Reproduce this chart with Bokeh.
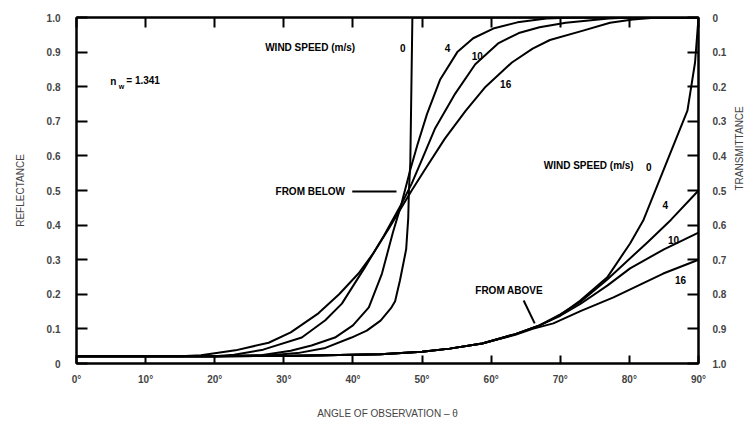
import math
from bokeh.plotting import figure
from bokeh.models import Range1d, LinearAxis, FixedTicker, CustomJSTickFormatter
from bokeh.core.properties import value
from bokeh.embed import file_html
from bokeh.resources import INLINE

# ---- data (angle of observation in degrees, reflectance) ----
below_0_ang = [0, 20, 28, 32, 36, 39.8, 42, 44, 45.5, 46.1, 46.8, 47.4, 47.7, 48.0, 48.1, 48.3, 48.6, 60, 75, 90]
below_0_ref = [0.021, 0.021, 0.024, 0.03, 0.045, 0.075, 0.095, 0.124, 0.16, 0.18, 0.24, 0.30, 0.33, 0.42, 0.50, 0.58, 1.0, 1.0, 1.0, 1.0]

below_4_ang = [0, 20, 26.7, 31, 34, 37.4, 40, 42.3, 44.2, 45.8, 47, 48.3, 49.3, 50.7, 52.6, 55.1, 57.4, 60.3, 63.8, 68, 72, 90]
below_4_ref = [0.021, 0.021, 0.024, 0.037, 0.052, 0.075, 0.11, 0.162, 0.26, 0.38, 0.46, 0.56, 0.63, 0.72, 0.82, 0.90, 0.94, 0.968, 0.986, 0.997, 1.0, 1.0]

below_10_ang = [0, 20, 22.8, 27, 32.6, 36, 38.4, 41.7, 44.5, 47, 48.5, 50, 51.9, 54.8, 57.7, 61, 64, 67, 70.8, 77, 80, 90]
below_10_ref = [0.021, 0.021, 0.025, 0.04, 0.075, 0.125, 0.173, 0.277, 0.37, 0.46, 0.52, 0.59, 0.68, 0.78, 0.865, 0.925, 0.955, 0.972, 0.985, 0.997, 1.0, 1.0]

below_16_ang = [0, 15, 18, 23, 27.8, 31, 35, 38, 40.8, 43, 45.2, 47, 48.5, 50.4, 53.3, 56.3, 59.2, 63, 66, 68.5, 73.3, 77.2, 80.5, 84, 90]
below_16_ref = [0.021, 0.021, 0.024, 0.038, 0.06, 0.09, 0.145, 0.2, 0.26, 0.32, 0.39, 0.45, 0.5, 0.56, 0.65, 0.73, 0.80, 0.87, 0.91, 0.935, 0.962, 0.985, 0.994, 1.0, 1.0]

above_0_ang = [0, 10, 20, 30, 40, 44, 50, 54, 58.7, 63.5, 67, 70, 72.9, 76.8, 80.1, 82, 85.5, 88.4, 89.5, 90]
above_0_ref = [0.021, 0.021, 0.021, 0.022, 0.025, 0.027, 0.034, 0.043, 0.058, 0.085, 0.11, 0.14, 0.182, 0.249, 0.347, 0.413, 0.587, 0.731, 0.87, 1.0]

above_4_ang = [0, 10, 20, 30, 40, 44, 50, 54, 58.7, 63.5, 67, 70, 72.9, 76.8, 82.6, 86, 90]
above_4_ref = [0.021, 0.021, 0.021, 0.022, 0.025, 0.027, 0.034, 0.043, 0.058, 0.085, 0.11, 0.142, 0.178, 0.243, 0.35, 0.415, 0.50]

above_10_ang = [0, 10, 20, 30, 40, 44, 50, 54, 58.7, 63.5, 67, 70, 72.9, 76.8, 80.1, 85, 90]
above_10_ref = [0.021, 0.021, 0.021, 0.022, 0.025, 0.027, 0.034, 0.043, 0.058, 0.085, 0.11, 0.138, 0.172, 0.225, 0.275, 0.33, 0.378]

above_16_ang = [0, 10, 20, 30, 40, 44, 50, 54, 58.7, 63.5, 66, 69, 73, 77.7, 84.9, 90]
above_16_ref = [0.021, 0.021, 0.021, 0.022, 0.025, 0.027, 0.034, 0.043, 0.058, 0.083, 0.10, 0.116, 0.152, 0.191, 0.26, 0.30]

x_ticks = [0, 10, 20, 30, 40, 50, 60, 70, 80, 90]
y_ticks = [0, 0.1, 0.2, 0.3, 0.4, 0.5, 0.6, 0.7, 0.8, 0.9, 1.0]

FONT = "Liberation Sans"

p = figure(width=753, height=425, output_backend="svg", toolbar_location=None,
           x_range=Range1d(0, 90), y_range=Range1d(0, 1),
           min_border_left=76, min_border_right=55, min_border_top=17, min_border_bottom=62,
           x_axis_label="ANGLE OF OBSERVATION – θ", y_axis_label="REFLECTANCE")
p.grid.visible = False
p.outline_line_color = "black"
p.outline_line_width = 2
p.background_fill_color = "white"
p.border_fill_color = "white"

# bottom axis
xa = p.xaxis[0]
xa.ticker = FixedTicker(ticks=x_ticks)
xa.formatter = CustomJSTickFormatter(code='return tick.toFixed(0) + "°";')
xa.major_tick_in = 8
xa.major_tick_out = 0
xa.minor_tick_line_color = None
xa.axis_line_width = 2
xa.major_tick_line_width = 2
xa.major_label_standoff = 10
xa.axis_label_standoff = 20
xa.major_label_text_font = FONT
xa.major_label_text_font_size = "10px"
xa.major_label_text_font_style = "bold"
xa.axis_label_text_font = FONT
xa.axis_label_text_font_size = "10px"
xa.axis_label_text_font_style = "normal"

# left axis
ya = p.yaxis[0]
ya.ticker = FixedTicker(ticks=y_ticks)
ya.formatter = CustomJSTickFormatter(code='return tick < 0.001 ? "0" : tick.toFixed(1);')
ya.major_tick_in = 11
ya.major_tick_out = 0
ya.minor_tick_line_color = None
ya.axis_line_width = 2
ya.major_tick_line_width = 2
ya.major_label_standoff = 16
ya.axis_label_standoff = 18
ya.major_label_text_font = FONT
ya.major_label_text_font_size = "10px"
ya.major_label_text_font_style = "bold"
ya.axis_label_text_font = FONT
ya.axis_label_text_font_size = "10px"
ya.axis_label_text_font_style = "normal"

# right axis: transmittance = 1 - reflectance
p.extra_y_ranges = {"trans": Range1d(1, 0)}
ra = LinearAxis(y_range_name="trans", axis_label="TRANSMITTANCE",
                ticker=FixedTicker(ticks=y_ticks),
                formatter=CustomJSTickFormatter(code='return tick < 0.001 ? "0" : tick.toFixed(1);'))
ra.major_tick_in = 11
ra.major_tick_out = 0
ra.minor_tick_line_color = None
ra.axis_line_width = 2
ra.major_tick_line_width = 2
ra.major_label_standoff = 14
ra.axis_label_standoff = 10
ra.axis_label_orientation = math.pi / 2
ra.major_label_text_font = FONT
ra.major_label_text_font_size = "10px"
ra.major_label_text_font_style = "bold"
ra.axis_label_text_font = FONT
ra.axis_label_text_font_size = "10px"
ra.axis_label_text_font_style = "normal"
p.add_layout(ra, "right")

# top axis: ticks only
ta = LinearAxis(ticker=FixedTicker(ticks=x_ticks))
ta.major_tick_in = 10
ta.major_tick_out = 0
ta.minor_tick_line_color = None
ta.major_label_text_font_size = "0px"
ta.major_label_text_color = None
ta.axis_line_width = 2
ta.major_tick_line_width = 2
ta.major_label_standoff = 0
p.add_layout(ta, "above")

# curves
for a, r in [(below_0_ang, below_0_ref), (below_4_ang, below_4_ref),
             (below_10_ang, below_10_ref), (below_16_ang, below_16_ref),
             (above_0_ang, above_0_ref), (above_4_ang, above_4_ref),
             (above_10_ang, above_10_ref), (above_16_ang, above_16_ref)]:
    p.line(a, r, line_color="black", line_width=2, line_join="round")

def lbl(x, y, t, align="left", size="10px", style="bold"):
    p.text([x], [y], text=[t], text_font=value(FONT), text_font_size=size,
           text_font_style=style, text_align=align, text_baseline="middle", text_color="black")

# upper legend text (from below)
lbl(27.3, 0.913, "WIND SPEED (m/s)")
lbl(47.2, 0.913, "0", "center")
lbl(53.7, 0.913, "4", "center")
lbl(58.0, 0.89, "10", "center")
lbl(62.1, 0.809, "16", "center")

# n_w = 1.341
lbl(4.9, 0.814, "n", "left", "10px")
lbl(6.1, 0.80, "w", "left", "7px")
lbl(7.2, 0.817, "= 1.341", "left", "10px")

# FROM BELOW
lbl(28.8, 0.497, "FROM BELOW")
p.line([39.9, 46.3], [0.497, 0.497], line_color="black", line_width=2)

# lower legend text (from above)
lbl(67.6, 0.572, "WIND SPEED (m/s)")
lbl(82.8, 0.569, "0", "center")
lbl(85.2, 0.457, "4", "center")
lbl(86.4, 0.358, "10", "center")
lbl(87.4, 0.24, "16", "center")

# FROM ABOVE
lbl(57.7, 0.211, "FROM ABOVE")
p.line([64.7, 66.3], [0.182, 0.116], line_color="black", line_width=2)

open("out.html", "w").write(file_html(p, INLINE))
